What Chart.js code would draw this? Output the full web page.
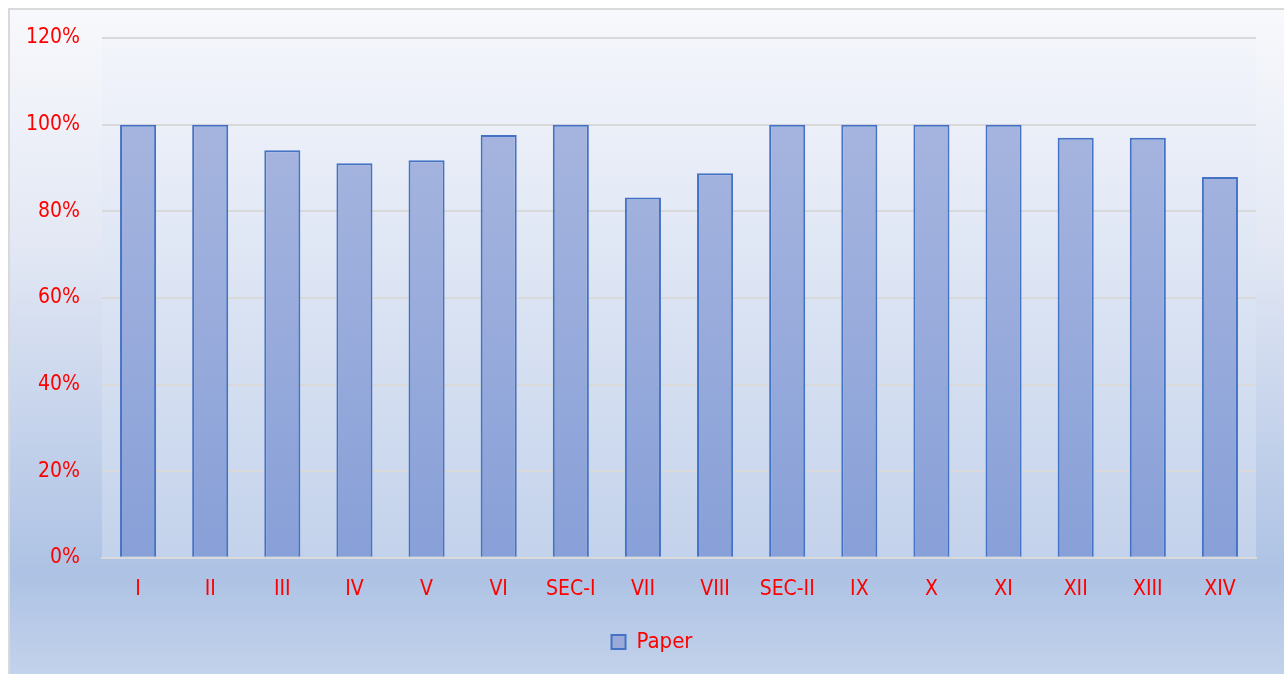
<!DOCTYPE html>
<html>
<head>
<meta charset="utf-8">
<script src="https://cdn.jsdelivr.net/npm/chart.js@4.4.0/dist/chart.umd.min.js"></script>
<style>
    html, body { margin: 0; padding: 0; background: #ffffff; }
    #wrap { width: 1284px; height: 674px; }
</style>
</head>
<body>
<div id="wrap"><canvas id="paperChart" width="1284" height="674"></canvas></div>
<script>
const categories = ['I', 'II', 'III', 'IV', 'V', 'VI', 'SEC-I', 'VII', 'VIII', 'SEC-II', 'IX', 'X', 'XI', 'XII', 'XIII', 'XIV'];
const paperValues = [100, 100, 94.1, 91.1, 91.8, 97.6, 100, 83.2, 88.8, 100, 100, 100, 100, 97.0, 97.0, 87.9];
const yTicks = [0, 20, 40, 60, 80, 100, 120];

const fontFamily = '"Liberation Sans Narrow", "DejaVu Sans Condensed", "Liberation Sans", sans-serif';

// background of the whole chart and of the plot area
const backgroundPlugin = {
    id: 'backgrounds',
    afterLayout(chart) {
        // legend sits a bit right of centre in the original
        if (chart.legend) {
            chart.legend.left += 22;
            chart.legend.right += 22;
        }
    },
    beforeDraw(chart) {
        const ctx = chart.ctx;
        const w = chart.width, h = chart.height;
        ctx.save();
        let g = ctx.createLinearGradient(0, 8, 0, h);
        g.addColorStop(0, '#f8f9fc');
        g.addColorStop(0.35, '#e3e8f4');
        g.addColorStop(0.85, '#adc2e4');
        g.addColorStop(1, '#c3d2eb');
        ctx.fillStyle = g;
        ctx.fillRect(9, 9, w - 9, h - 9);
        ctx.strokeStyle = '#d9d9d9';
        ctx.lineWidth = 2;
        ctx.strokeRect(9, 9, w, h);

        const a = chart.chartArea;
        g = ctx.createLinearGradient(0, a.top, 0, a.bottom);
        g.addColorStop(0, '#f3f5fb');
        g.addColorStop(1, '#c3d2eb');
        ctx.fillStyle = g;
        ctx.fillRect(a.left, a.top, a.right - a.left, a.bottom - a.top);
        ctx.restore();
    }
};

function barFill(context) {
    const chart = context.chart;
    const a = chart.chartArea;
    if (!a) return '#9aaad9';
    const g = chart.ctx.createLinearGradient(0, a.top, 0, a.bottom);
    g.addColorStop(0, '#acb9e0');
    g.addColorStop(1, '#88a0d8');
    return g;
}

new Chart(document.getElementById('paperChart').getContext('2d'), {
    type: 'bar',
    data: {
        labels: categories,
        datasets: [{
            label: 'Paper',
            data: paperValues,
            backgroundColor: barFill,
            borderColor: '#4472c4',
            borderWidth: 2,
            barPercentage: 0.5,
            categoryPercentage: 1.0
        }]
    },
    options: {
        responsive: false,
        animation: false,
        layout: { padding: { top: 38, right: 28, bottom: 11, left: 4 } },
        scales: {
            y: {
                min: 0,
                max: 120,
                afterBuildTicks: axis => { axis.ticks = yTicks.map(v => ({ value: v })); },
                grid: { color: '#d9d9d9', lineWidth: 2, drawTicks: false },
                border: { display: false },
                ticks: {
                    color: '#ff0000',
                    padding: 22,
                    font: { family: fontFamily, size: 21 },
                    callback: v => v + '%'
                }
            },
            x: {
                grid: { display: false },
                border: { color: '#d9d9d9', width: 2 },
                ticks: {
                    color: '#ff0000',
                    padding: 11,
                    maxRotation: 0,
                    font: { family: fontFamily, size: 21 }
                }
            }
        },
        plugins: {
            tooltip: { enabled: false },
            legend: {
                position: 'bottom',
                labels: {
                    color: '#ff0000',
                    boxWidth: 14,
                    boxHeight: 14,
                    padding: 18,
                    font: { family: fontFamily, size: 22 },
                    generateLabels: () => [{
                        text: 'Paper',
                        fillStyle: '#9aaad9',
                        strokeStyle: '#4472c4',
                        lineWidth: 2,
                        fontColor: '#ff0000',
                        datasetIndex: 0
                    }]
                }
            }
        }
    },
    plugins: [backgroundPlugin]
});
</script>
</body>
</html>
